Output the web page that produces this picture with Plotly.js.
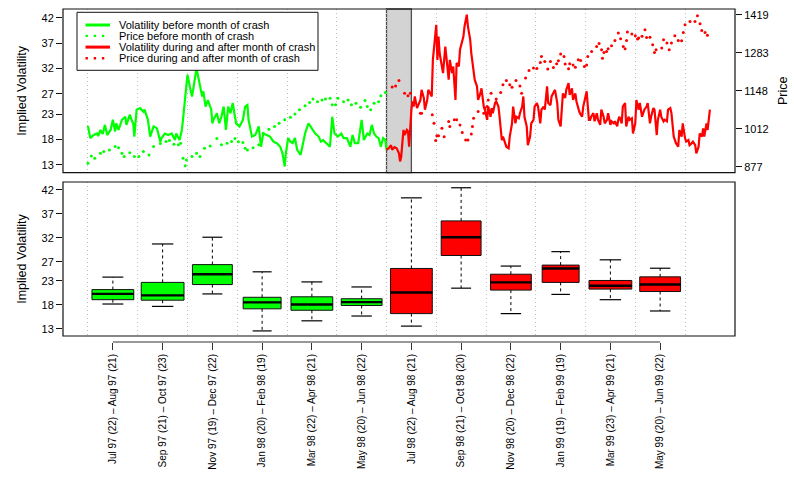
<!DOCTYPE html>
<html><head><meta charset="utf-8">
<script src="https://cdn.plot.ly/plotly-3.0.1.min.js"></script>
<style>html,body{margin:0;padding:0;background:#fff}#chart{width:794px;height:478px}</style>
</head><body><div id="chart"></div>
<script>
// ---------- DATA (trading-day index t) ----------
const volBeforeT = [0,2,5,8,9,11,13,15,17,20,22,24,25,27,30,33,34,37,39,40,41,43,46,49,50,52,53,55,58,61,62,64,65,68,71,74,77,78,81,83,84,86,88,90,92,93,96,98,101,102,104,106,109,110,111,114,116,118,120,122,124,126,128,130,131,134,137,139,141,142,145,148,151,153,155,158,161,164,167,170,172,174,175,177,179,181,183,185,188,189,192,195,198,201,204,206,208,211,214,216,218,221,224,226,229,232,234,236,239,242,244,247,249,251,253,255,257,259,261,263,264];
const volBeforeV = [20.7,18.3,18.9,19.2,18.7,19.9,19.1,20.9,18.9,19.9,21.9,19.6,21.2,19.9,21.9,22.5,20.9,22.9,21.6,21.2,18.6,23.9,24.2,23.5,23.9,22.5,21.9,18.6,20.6,20.2,19.2,17.6,18.3,19.2,18.9,19.2,17.9,19.2,17.9,19.9,21.9,27.1,30.8,28.5,26.5,27.8,32.1,29.8,26.5,27.5,24.5,25.8,23.9,21.2,21.9,23.2,21.2,22.5,24.5,19.9,24.5,23.2,25.2,22.5,21.2,20.6,21.9,24.5,24.8,21.9,18.6,18.9,20.6,16.6,19.2,18.9,18.6,17.6,17.3,16.6,15.3,12.7,15.3,18.3,17.6,17.3,18.3,16.0,15.0,16.0,19.2,21.2,20.2,19.2,18.6,17.6,17.9,17.3,16.6,22.5,19.2,18.6,19.2,18.3,18.3,16.6,18.9,17.3,17.3,21.9,17.9,19.2,18.9,20.9,19.2,18.6,18.3,16.6,18.3,17.9,16.0];

const volAfterT = [264,266,268,269,271,273,275,276,277,278,279,280,282,283,284,286,287,288,289,291,292,294,295,297,298,300,301,303,304,305,307,308,309,310,311,313,314,316,317,319,320,322,323,325,326,328,329,331,332,333,335,336,338,339,341,342,344,345,347,348,350,351,353,354,356,357,358,360,361,363,364,366,367,369,370,372,373,375,376,378,379,381,382,384,385,386,388,389,391,392,394,395,397,398,400,401,403,404,406,407,409,410,412,413,415,416,418,419,420,422,423,425,426,428,429,431,432,434,435,437,438,440,441,443,444,445,447,448,450,451,453,454,456,457,459,460,462,463,465,466,468,469,470,472,473,475,476,478,479,481,482,484,485,487,488,490,491,492,494,495,497,498,500,501,503,504,506,507,509,510,512,513,515,516,518,519,520,522,523,525,526,528,529,531,532,534,535,537,538,540,541,543,544,545,547,548,550];
const volAfterV = [16.0,16.3,16.9,16.0,16.5,16.3,15.3,13.7,14.6,17.3,19.9,18.9,19.9,19.6,16.6,23.9,25.5,24.5,26.5,24.2,24.8,25.8,27.8,26.2,23.9,25.8,27.8,27.1,26.5,33.7,39.6,40.6,33.7,38.3,35.0,32.4,31.1,36.3,33.7,29.8,33.7,31.1,32.4,25.8,33.1,32.4,35.7,37.7,38.3,40.3,42.6,40.3,37.7,35.0,31.1,29.8,28.5,25.8,27.1,28.1,24.5,23.9,21.9,24.5,22.5,24.2,23.2,25.2,25.5,24.5,22.5,17.9,18.6,17.3,16.6,16.3,18.6,21.2,24.5,21.2,22.5,22.2,23.2,24.5,26.5,22.5,20.6,16.9,18.6,21.2,21.9,24.5,25.2,24.5,21.2,23.9,24.5,23.9,28.5,25.2,24.8,26.5,27.5,27.8,25.2,21.9,20.6,24.5,27.1,26.2,27.8,29.1,26.8,28.1,25.8,27.1,25.5,23.9,23.2,22.5,24.5,26.5,27.5,21.9,21.9,22.5,23.2,21.6,23.2,21.9,20.9,23.9,22.5,21.2,21.9,23.2,20.9,21.6,21.2,21.6,20.6,21.9,22.5,21.2,24.5,25.2,20.6,22.5,21.9,22.2,19.2,21.2,25.8,23.9,25.2,22.5,23.2,23.9,24.5,25.2,21.2,22.5,24.2,23.9,18.9,21.9,23.9,22.5,21.6,21.9,21.6,23.9,24.2,23.2,18.6,17.9,17.3,16.6,19.9,18.6,21.2,18.3,17.6,17.9,16.9,17.3,17.6,16.9,15.3,16.6,19.2,18.6,20.2,18.6,21.2,19.9,23.9];

const priceBeforeT = [0,3,6,11,14,19,24,27,30,32,37,41,45,49,54,58,64,69,72,76,80,82,84,86,87,92,96,99,103,108,114,118,123,127,130,133,137,139,141,146,151,155,160,165,169,174,179,183,187,192,196,199,203,207,210,214,216,219,221,226,230,233,237,241,245,247,250,253,257,259,263];
const priceBeforeV = [889,915,907,925,931,937,949,945,925,913,927,913,913,931,919,949,960,967,970,957,955,961,907,880,901,913,925,913,943,951,978,955,961,967,978,966,963,943,937,945,955,996,1011,1020,1032,1044,1053,1065,1080,1094,1106,1118,1109,1115,1118,1121,1098,1098,1121,1109,1115,1098,1103,1089,1113,1092,1080,1103,1109,1130,1142];

const priceAfterT = [269,272,275,280,283,285,294,295,304.5,306,307.5,308.5,310,313,315,319,320,324,326,329,331,334,336,339,340,341,345,350,351,353,354,356.5,361,365,367,370,373,375,378.5,382,383.5,387,390,394,397,400,401,404,406.6,409,411.6,414.5,416,418,421,422,425,426,429,431,433.6,435.7,439,441,442,445.4,449.8,452,454.2,455,456.3,458.6,460,463,466,469,471,473.4,475,476.3,477,481,484,486,487,490,492.6,494,497,499.4,501,502.4,507.4,509,512,514,516,519,522,525,526.5,528,532.4,536.8,539,541.3,542.8,545.7,547.8];
const priceAfterV = [1161,1165,1184,1139,1130,1139,1068,1068,1062,1032,970,987,987,1014,984,1038,1020,1044,1044,1026,999,972,972,994,1020,1050,1074,1068,1086,1092,1115,1139,1118,1142,1169,1184,1169,1160,1184,1165,1139,1193,1220,1229,1227,1249,1270,1252,1225,1252,1231,1244,1255,1279,1270,1243,1226,1244,1240,1232,1258,1256,1234,1240,1270,1288,1306,1316,1294,1264,1284,1288,1298,1308,1327,1354,1333,1306,1298,1327,1357,1350,1344,1332,1336,1342,1365,1338,1339,1312,1284,1294,1300,1330,1318,1294,1318,1344,1327,1326,1356,1383,1395,1395,1415,1387,1363,1356,1346];

const crashMonthT = [264, 286];          // Aug 98 (trading-day index)
const gridDays = [0,44,88,132,176,220,264,308,352,396,440,484,528];
const volTicks = [13,18,23,27,32,37,42];
const priceTicks = [877,1012,1148,1283,1419];

// two-month periods for the box plots
const periodStart = ["Jul 97","Sep 97","Nov 97","Jan 98","Mar 98","May 98","Jul 98","Sep 98","Nov 98","Jan 99","Mar 99","May 99"];
const periodEnd   = ["Aug 97","Oct 97","Dec 97","Feb 98","Apr 98","Jun 98","Aug 98","Oct 98","Dec 98","Feb 99","Apr 99","Jun 99"];
const daysStart   = [22,21,19,20,22,20,22,21,20,19,23,20];
const daysEnd     = [21,23,22,19,21,22,21,20,22,19,21,22];
const boxLower  = [18.2,17.7,20.3,12.6,14.7,15.7,13.6,21.5,16.2,20.2,19.1,16.75];
const boxQ1     = [19.1,19.0,22.25,17.2,16.9,17.9,16.2,28.3,21.1,22.7,21.3,20.8];
const boxMedian = [20.3,20.0,24.4,18.55,18.1,18.6,20.6,32.1,22.7,25.6,22.0,22.25];
const boxQ3     = [21.2,22.7,26.4,19.6,19.7,19.3,25.6,35.5,24.4,26.3,23.1,23.85];
const boxUpper  = [23.8,30.7,32.1,24.9,22.8,21.75,40.3,42.4,26.1,29.1,27.4,25.65];
const firstCrashPeriod = 6;

// ---------- STYLE / LAYOUT ----------
const GREEN = '#00FF00', RED = '#FF0000';
const FONT = 'Liberation Sans, Arial, Helvetica, sans-serif';
const PERIOD_LEN = 44;
const topDom = [0.5084, 1], botDom = [0.018, 0.4805];
const xRange = [-22.1, 572.2];

const pos = boxQ1.map((_, i) => PERIOD_LEN/2 + PERIOD_LEN*i);
const nDays = daysStart.map((d, i) => d + daysEnd[i]);
const widths = nDays.map(n => n*0.86);
const labels = periodStart.map((s, i) => `${s} (${daysStart[i]}) – ${periodEnd[i]} (${daysEnd[i]})`);

const traces = [
  {x: volBeforeT, y: volBeforeV, type:'scatter', mode:'lines', name:'Volatility before month of crash',
   line:{color:GREEN, width:2.2}, xaxis:'x', yaxis:'y', hoverinfo:'skip'},
  {x: volAfterT, y: volAfterV, type:'scatter', mode:'lines', name:'Volatility during and after month of crash',
   line:{color:RED, width:2.2}, xaxis:'x', yaxis:'y', hoverinfo:'skip'},
  {x: priceBeforeT, y: priceBeforeV, type:'scatter', mode:'markers', name:'Price before month of crash',
   marker:{color:GREEN, size:3}, xaxis:'x', yaxis:'y2', hoverinfo:'skip'},
  {x: priceAfterT, y: priceAfterV, type:'scatter', mode:'markers', name:'Price during and after month of crash',
   marker:{color:RED, size:3}, xaxis:'x', yaxis:'y2', hoverinfo:'skip'}
];

boxQ1.forEach((q1, i) => {
  traces.push({
    type:'box', x:[pos[i]], q1:[q1], median:[boxMedian[i]], q3:[boxQ3[i]],
    lowerfence:[q1], upperfence:[boxQ3[i]], width: widths[i], whiskerwidth: 0,
    fillcolor: i < firstCrashPeriod ? GREEN : RED, line:{color:'#111', width:1},
    boxpoints:false, xaxis:'x2', yaxis:'y3', showlegend:false, hoverinfo:'skip', name: labels[i]
  });
});
const wx=[], wy=[], cx=[], cy=[], mx=[], my=[];
pos.forEach((p, i) => {
  wx.push(p, p, null, p, p, null); wy.push(boxQ3[i], boxUpper[i], null, boxQ1[i], boxLower[i], null);
  const c = widths[i]/4;
  cx.push(p-c, p+c, null, p-c, p+c, null); cy.push(boxUpper[i], boxUpper[i], null, boxLower[i], boxLower[i], null);
  const h = widths[i]/2;
  mx.push(p-h, p+h, null); my.push(boxMedian[i], boxMedian[i], null);
});
traces.push({x:wx, y:wy, type:'scatter', mode:'lines', line:{color:'#000', width:1, dash:'3px,3px'}, xaxis:'x2', yaxis:'y3', showlegend:false, hoverinfo:'skip'});
traces.push({x:cx, y:cy, type:'scatter', mode:'lines', line:{color:'#000', width:1.2}, xaxis:'x2', yaxis:'y3', showlegend:false, hoverinfo:'skip'});
traces.push({x:mx, y:my, type:'scatter', mode:'lines', line:{color:'#000', width:2.4}, xaxis:'x2', yaxis:'y3', showlegend:false, hoverinfo:'skip'});

// legend drawn manually (compact like the original)
const px = v => (v - 63)/672, py = v => (342 - v)/333;
const legRows = [
  {text:'Volatility before month of crash', color:GREEN, dot:false},
  {text:'Price before month of crash', color:GREEN, dot:true},
  {text:'Volatility during and after month of crash', color:RED, dot:false},
  {text:'Price during and after month of crash', color:RED, dot:true}
];
const rowY = [25, 35.9, 47.1, 58.3];

const shapes = [
  {type:'rect', xref:'x', yref:'y domain', x0:crashMonthT[0], x1:crashMonthT[1], y0:0, y1:1,
   fillcolor:'#D3D3D3', line:{color:'#505050', width:1.3}, layer:'below'},
  {type:'rect', xref:'paper', yref:'paper', x0:0, x1:1, y0:topDom[0], y1:topDom[1], line:{color:'#111', width:1.2}, fillcolor:'rgba(0,0,0,0)', layer:'above'},
  {type:'rect', xref:'paper', yref:'paper', x0:0, x1:1, y0:botDom[0], y1:botDom[1], line:{color:'#111', width:1.2}, fillcolor:'rgba(0,0,0,0)', layer:'above'},
  {type:'line', xref:'x2', yref:'paper', x0:pos[0], x1:pos[pos.length-1], y0:0, y1:0, line:{color:'#333', width:1.2}},
  {type:'rect', xref:'paper', yref:'paper', x0:px(77), x1:px(318), y0:py(70.3), y1:py(12.3), fillcolor:'#fff', line:{color:'#111', width:1}, layer:'above'}
];
const annotations = [];
legRows.forEach((r, i) => {
  shapes.push({type:'line', xref:'paper', yref:'paper', x0:px(85.5), x1:px(110), y0:py(rowY[i]), y1:py(rowY[i]),
    line:{color:r.color, width: r.dot ? 2.4 : 3, dash: r.dot ? '2.4px,5.8px' : 'solid'}, layer:'above'});
  annotations.push({xref:'paper', yref:'paper', x:px(117), y:py(rowY[i]), xanchor:'left', yanchor:'middle',
    text:r.text, showarrow:false, font:{size:11, color:'#000', family:FONT}});
});

const gridStyle = {showgrid:true, gridcolor:'#BBBBBB', gridwidth:1, griddash:'1px,3px'};
const layout = {
  width:794, height:478, margin:{l:63, r:59, t:9, b:136},
  paper_bgcolor:'#fff', plot_bgcolor:'#fff', showlegend:false,
  font:{family:FONT, size:11, color:'#000'},
  xaxis:Object.assign({domain:[0,1], anchor:'y', range:xRange, tickmode:'array', tickvals:gridDays,
    showticklabels:false, ticks:'', zeroline:false, showline:false}, gridStyle),
  yaxis:{domain:topDom, anchor:'x', range:[11.48, 43.72], tickmode:'array', tickvals:volTicks,
    ticks:'outside', ticklen:6, tickcolor:'#111', showgrid:false, zeroline:false, showline:false,
    tickfont:{size:11}, title:{text:'Implied Volatility', font:{size:12.5}, standoff:12}},
  yaxis2:{overlaying:'y', side:'right', anchor:'x', range:[855.6, 1439.4], tickmode:'array', tickvals:priceTicks,
    ticks:'outside', ticklen:6, tickcolor:'#111', showgrid:false, zeroline:false, showline:false,
    tickfont:{size:11}, title:{text:'Price', font:{size:12.5}, standoff:10}},
  xaxis2:{domain:[0,1], anchor:'free', position:0, range:xRange, tickmode:'array', tickvals:pos, ticktext:labels,
    tickangle:-90, ticks:'outside', ticklen:7, tickcolor:'#333', showgrid:false, zeroline:false, showline:false,
    tickfont:{size:10},
    minor:{tickmode:'array', tickvals:gridDays, ticks:'', showgrid:true, gridcolor:'#BBBBBB', gridwidth:1, griddash:'1px,3px'}},
  yaxis3:{domain:botDom, anchor:'x2', range:[11.54, 43.6], tickmode:'array', tickvals:volTicks,
    ticks:'outside', ticklen:6, tickcolor:'#111', showgrid:false, zeroline:false, showline:false,
    tickfont:{size:11}, title:{text:'Implied Volatility', font:{size:12.5}, standoff:12}},
  shapes: shapes, annotations: annotations, boxmode:'overlay'
};
Plotly.newPlot('chart', traces, layout, {staticPlot:true, displayModeBar:false});
</script></body></html>
